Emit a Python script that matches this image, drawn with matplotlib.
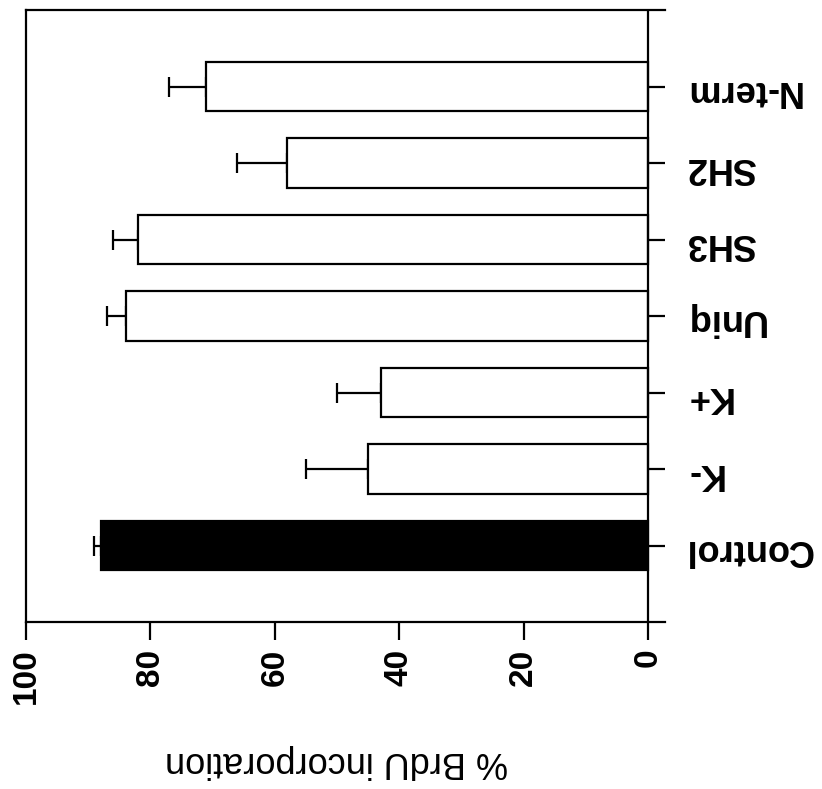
import matplotlib.pyplot as plt
import numpy as np

categories = ['Control', 'K-', 'K+', 'Uniq', 'SH3', 'SH2', 'N-term']
brdu = [88, 45, 43, 84, 82, 58, 71]
errors = [1, 10, 7, 3, 4, 8, 6]
bar_colors = ['black', 'white', 'white', 'white', 'white', 'white', 'white']
xticks = [0, 20, 40, 60, 80, 100]

plt.rcParams['font.family'] = ['Liberation Sans', 'DejaVu Sans']

fig = plt.figure(figsize=(8.22, 7.89), dpi=100)
ax = fig.add_axes([26/822, 1-622/789, (665-26)/822, (622-10)/789])

y = np.arange(len(categories))
ax.barh(y, brdu, height=0.65, color=bar_colors, edgecolor='black', linewidth=1.6, zorder=3)
# error bars only on the outer side
ax.errorbar(brdu, y, xerr=[np.zeros(len(errors)), errors], fmt='none', ecolor='black',
            elinewidth=1.6, capsize=7, capthick=1.6, zorder=2)
ax.axvline(0, color='black', lw=1.6, zorder=4)

ax.set_xlim(100, -2.73)
ax.set_ylim(-1, 7)

for s in ['top', 'bottom', 'left']:
    ax.spines[s].set_linewidth(1.6)
ax.spines['right'].set_visible(False)

ax.set_xticks(xticks)
ax.set_xticklabels([str(t) for t in xticks], rotation=90, fontsize=24, fontweight='bold')
ax.tick_params(axis='x', direction='out', length=13, width=1.6, pad=6)

ax.yaxis.tick_right()
ax.set_yticks(y)
ax.set_yticklabels(categories, rotation=180, fontsize=26, fontweight='bold')
ax.tick_params(axis='y', direction='in', length=12, width=1.6, pad=14)

fig.text(336/822, 1-762/789, '% BrdU incorporation', rotation=180,
         ha='center', va='center', fontsize=26)

fig.savefig('out.png', dpi=100)
